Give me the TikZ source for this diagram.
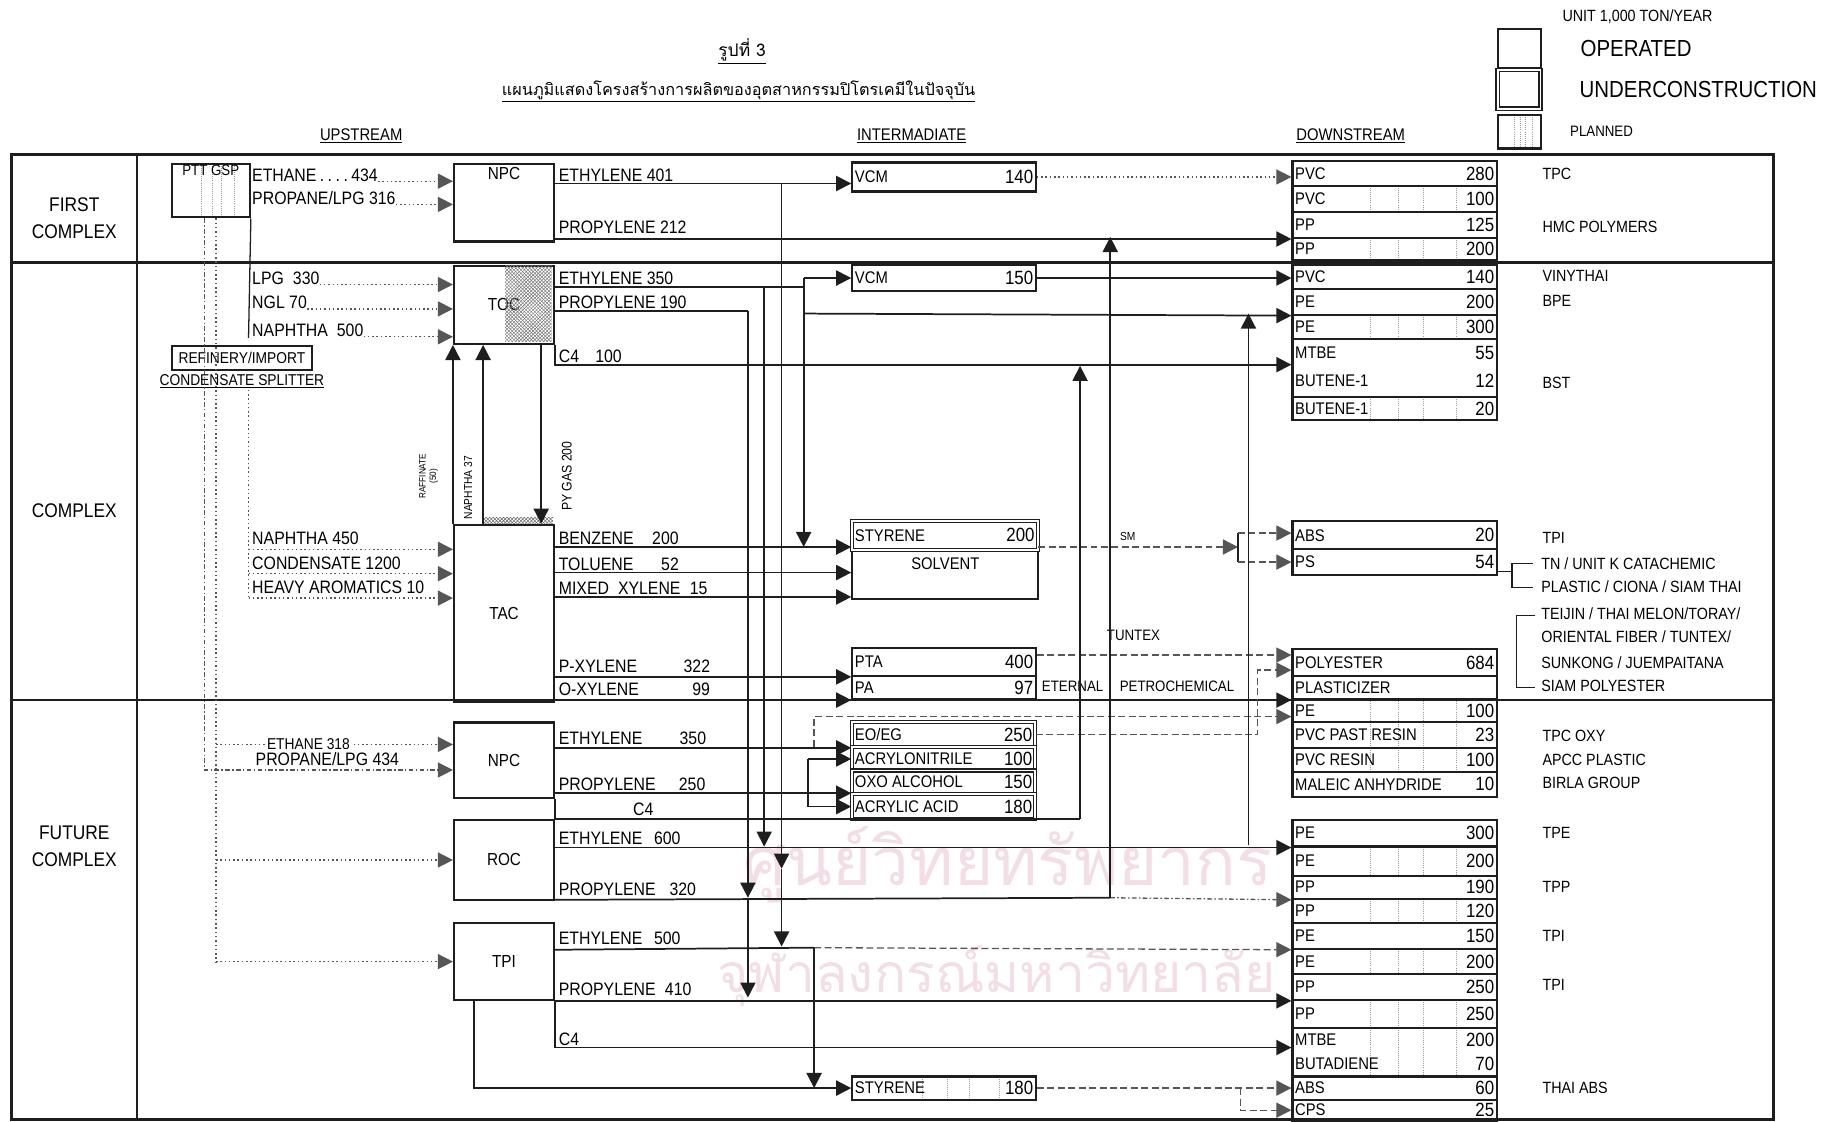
\documentclass[tikz,border=0pt]{standalone}
\usepackage{fontspec}
\setmainfont{Liberation Sans}[FakeStretch=0.88]
\newfontfamily\thaifont[Script=Thai]{Loma}
\usetikzlibrary{arrows.meta,positioning,calc,patterns}
\definecolor{ink}{HTML}{1E1E1E}
\definecolor{wmpink}{HTML}{F3DDE6}

\begin{document}
\begin{tikzpicture}[
  x=1pt,y=-1pt,
  font=\fontsize{14}{15}\selectfont,
  frame/.style={draw=ink,line width=2pt},
  plant/.style={draw=ink,line width=2pt,anchor=north west,inner sep=0pt,minimum width=86pt,font=\fontsize{15}{16}\selectfont},
  ibox/.style={draw=ink,line width=1.8pt,anchor=north west,inner sep=0pt,minimum width=158pt},
  cell/.style={draw=ink,line width=1.8pt,anchor=north west,inner sep=0pt,minimum width=176pt},
  lbox/.style={draw=ink,line width=1.8pt,anchor=north west,inner sep=0pt,minimum width=37pt},
  opr/.style={},
  pln/.style={path picture={\foreach \f in {.38,.52,.64,.8}{\draw[ink!45,densely dotted,line width=.8pt] ($(path picture bounding box.north west)!\f!(path picture bounding box.north east)$) -- ($(path picture bounding box.south west)!\f!(path picture bounding box.south east)$);}}},
  ucn/.style={double=white,double distance=1.6pt,line width=1pt},
  lbl/.style={anchor=base west,inner sep=0pt,font=\fontsize{15.5}{17}\selectfont},
  ctxt/.style={inner sep=3pt,font=\fontsize{14.5}{16}\selectfont},
  cnum/.style={inner sep=3pt,font=\fontsize{16.5}{18}\selectfont},
  co/.style={anchor=west,inner sep=0pt,font=\fontsize{14}{15}\selectfont},
  hdr/.style={font=\fontsize{14.5}{16}\selectfont},
  rowlbl/.style={align=center,font=\fontsize{17}{23}\selectfont},
  rot/.style={rotate=90,align=center,inner sep=0pt},
  wm/.style={text=wmpink,font=\thaifont\fontsize{#1}{#1}\selectfont},
  ln/.style={draw=ink,line width=1.5pt},
  arr/.style={-{Triangle[length=13pt,width=13pt]},draw=ink,line width=1.5pt},
  dotln/.style={draw=ink!75,line width=1.1pt,dash pattern=on 1.3pt off 2.4pt},
  dashdot/.style={draw=ink!75,line width=1.1pt,dash pattern=on 4pt off 2pt on 1.3pt off 2pt},
  dsh/.style={draw=ink!75,line width=1.1pt,dash pattern=on 6pt off 3pt}
]
\useasboundingbox (0,0) rectangle (1568,966);

\node[wm=58] (wmA) at (868,745) {ศูนย์วิทยทรัพยากร};
\node[wm=46] (wmB) at (858,840) {จุฬาลงกรณ์มหาวิทยาลัย};

\node[font=\thaifont\fontsize{15}{16}\selectfont] (fig) at (639,44) {\underline{รูปที่ 3}};
\node[font=\thaifont\fontsize{14}{16}\selectfont] (ttl) at (636,79) {\underline{แผนภูมิแสดงโครงสร้างการผลิตของอุตสาหกรรมปิโตรเคมีในปัจจุบัน}};
\node[hdr] (hUp) at (311,117) {\underline{UPSTREAM}};
\node[hdr] (hMid) at (785,117) {\underline{INTERMADIATE}};
\node[hdr] (hDown) at (1163,117) {\underline{DOWNSTREAM}};

\node[font=\fontsize{14}{15}\selectfont] (unit) at (1410,14) {UNIT 1,000 TON/YEAR};
\node[lbox,minimum height=34pt] (kOp) at (1289,24) {};
\node[lbox,ucn,minimum height=33pt] (kUc) at (1289,60) {};
\node[lbox,pln,minimum height=29pt] (kPl) at (1289,98) {};
\node[inner sep=0pt,font=\fontsize{20}{22}\selectfont,right=33pt of kOp] (tOp) {OPERATED};
\node[inner sep=0pt,font=\fontsize{20}{22}\selectfont,right=33pt of kUc] (tUc) {UNDERCONSTRUCTION};
\node[inner sep=0pt,font=\fontsize{13}{14}\selectfont,right=24pt of kPl] (tPl) {PLANNED};

\draw[frame] (10,133) rectangle (1527,964);
\draw[frame] (118,133) -- (118,964);
\draw[frame] (10,226) -- (1527,226);
\draw[frame] (10,603) -- (1527,603);

\node[rowlbl] (rowA) at (64,188) {FIRST\\COMPLEX};
\node[rowlbl] (rowB) at (64,440) {COMPLEX};
\node[rowlbl] (rowC) at (64,729) {FUTURE\\COMPLEX};

\node[plant,pln,minimum width=67pt,minimum height=46pt,label={[anchor=north,inner sep=2pt,font=\fontsize{13}{14}\selectfont]north:PTT GSP}] (gsp) at (147,140) {};
\node[draw=ink,line width=1.6pt,anchor=north west,minimum width=121pt,minimum height=21pt,inner sep=0pt,font=\fontsize{13.5}{14}\selectfont] (ref) at (147,297) {REFINERY/IMPORT};
\node[below=2pt of ref,inner sep=1pt,font=\fontsize{13.5}{14}\selectfont] (splt) {\underline{CONDENSATE SPLITTER}};

\node[plant,minimum height=67pt,label={[anchor=north,inner sep=4pt,font=\fontsize{15}{16}\selectfont]north:NPC}] (npcA) at (390,140) {};
\node[plant,minimum height=67pt] (toc) at (390,228) {TOC};
\fill[pattern=crosshatch,pattern color=ink!60] (435,229) rectangle (475,294);
\node[plant,minimum height=152pt] (tac) at (390,451) {TAC};
\fill[pattern=crosshatch,pattern color=ink!70] (416,446) rectangle (476,451);
\node[plant,minimum height=65pt] (npcC) at (390,621) {NPC};
\node[plant,minimum height=69pt] (roc) at (390,705) {ROC};
\node[plant,minimum height=66pt] (tpi) at (390,794) {TPI};

\node[ibox,minimum height=25pt] (vcmA) at (733,139) {};
\node[ctxt,anchor=west] (vcmA-l) at (vcmA.west) {VCM};
\node[cnum,anchor=east] (vcmA-v) at (vcmA.east) {140};
\node[ibox,minimum height=23pt] (vcmB) at (733,227) {};
\node[ctxt,anchor=west] (vcmB-l) at (vcmB.west) {VCM};
\node[cnum,anchor=east] (vcmB-v) at (vcmB.east) {150};
\node[ibox,minimum width=160pt,minimum height=42pt] (solv) at (733,473) {};
\node[ctxt] (solv-l) at (814,485) {SOLVENT};
\node[ibox,ucn,minimum width=160pt,minimum height=25pt] (styA) at (733,448) {};
\node[ctxt,anchor=west] (styA-l) at (styA.west) {STYRENE};
\node[cnum,anchor=east] (styA-v) at (styA.east) {200};
\node[ibox,minimum height=24pt] (pta) at (733,557) {};
\node[ctxt,anchor=west] (pta-l) at (pta.west) {PTA};
\node[cnum,anchor=east] (pta-v) at (pta.east) {400};
\node[ibox,minimum height=20pt] (pa) at (733,581) {};
\node[ctxt,anchor=west] (pa-l) at (pa.west) {PA};
\node[cnum,anchor=east] (pa-v) at (pa.east) {97};
\foreach \nm/\ya/\yb/\lab/\val in {eoeg/621/643/{EO/EG}/250, acn/643/663/ACRYLONITRILE/100, oxo/663/683/OXO ALCOHOL/150, acry/683/705/ACRYLIC ACID/180}
{
  \node[ibox,ucn,minimum height={(\yb-\ya)*1pt}] (\nm) at (733,\ya) {};
  \node[ctxt,anchor=west] (\nm-l) at (\nm.west) {\lab};
  \node[cnum,anchor=east] (\nm-v) at (\nm.east) {\val};
}
\node[ibox,pln,minimum height=20pt] (sty180) at (733,926) {};
\node[ctxt,anchor=west] (sty180-l) at (sty180.west) {STYRENE};
\node[cnum,anchor=east] (sty180-v) at (sty180.east) {180};

\foreach \nm/\ya/\yb/\lab/\val/\sty in {
  pvcA/138/159/PVC/280/opr, pvcB/159/182/PVC/100/pln, ppA/182/204/PP/125/opr, ppB/204/223/PP/200/pln,
  pvcC/227/248/PVC/140/opr, peA/248/270/PE/200/opr, peB/270/291/PE/300/pln, mtbeA/291/341/{}/{}/opr, butA/341/361/BUTENE-1/20/pln,
  absA/448/472/ABS/20/opr, psA/472/494/PS/54/opr,
  polyA/558/581/POLYESTER/684/opr, plastA/581/601/PLASTICIZER/{}/opr, peC/601/621/PE/100/pln,
  pvcD/621/643/PVC PAST RESIN/23/pln, pvcE/643/664/PVC RESIN/100/pln, maleA/664/685/MALEIC ANHYDRIDE/10/opr,
  peD/705/728/PE/300/opr, peE/728/753/PE/200/pln, ppC/753/773/PP/190/opr, ppD/773/794/PP/120/pln,
  peF/794/816/PE/150/opr, peG/816/838/PE/200/pln, ppE/838/860/PP/250/opr, ppF/860/884/PP/250/pln,
  mtbeB/884/926/{}/{}/pln, absB/926/946/ABS/60/opr, cpsA/946/964/CPS/25/opr}
{
  \node[cell,\sty,minimum height={(\yb-\ya)*1pt}] (\nm) at (1112,\ya) {};
  \node[ctxt,anchor=west] (\nm-l) at (\nm.west) {\lab};
  \node[cnum,anchor=east] (\nm-v) at (\nm.east) {\val};
}
\node[ctxt,anchor=west] (mtbeA-a) at (mtbeA.west |- 0,304) {MTBE};
\node[cnum,anchor=east] (mtbeA-b) at (mtbeA.east |- 0,304) {55};
\node[ctxt,anchor=west] (mtbeA-c) at (mtbeA.west |- 0,328) {BUTENE-1};
\node[cnum,anchor=east] (mtbeA-d) at (mtbeA.east |- 0,328) {12};
\node[ctxt,anchor=west] (mtbeB-a) at (mtbeB.west |- 0,895) {MTBE};
\node[cnum,anchor=east] (mtbeB-b) at (mtbeB.east |- 0,895) {200};
\node[ctxt,anchor=west] (mtbeB-c) at (mtbeB.west |- 0,916) {BUTADIENE};
\node[cnum,anchor=east] (mtbeB-d) at (mtbeB.east |- 0,916) {70};

\node[lbl] (fEthA) at (217,156) {ETHANE\makebox[30pt]{\dotfill}434};
\node[lbl] (fProA) at (217,176) {PROPANE/LPG 316};
\node[lbl] (fLpg) at (217,245) {LPG\enspace 330};
\node[lbl] (fNgl) at (217,266) {NGL 70};
\node[lbl] (fNap) at (217,290) {NAPHTHA\enspace 500};
\node[lbl] (fNapB) at (217,469) {NAPHTHA 450};
\node[lbl] (fCon) at (217,490) {CONDENSATE 1200};
\node[lbl] (fHvy) at (217,511) {HEAVY AROMATICS 10};
\node[lbl] (fProC) at (220,659) {PROPANE/LPG 434};

\node[lbl] (oEthA) at (481,156) {ETHYLENE 401};
\node[lbl] (oProA) at (481,201) {PROPYLENE 212};
\node[lbl] (oEthB) at (481,245) {ETHYLENE 350};
\node[lbl] (oProB) at (481,266) {PROPYLENE 190};
\node[lbl] (oC4B) at (481,312) {C4\hspace{14pt}100};
\node[lbl] (oBen) at (481,469) {BENZENE\hspace{16pt}200};
\node[lbl] (oTol) at (481,491) {TOLUENE\hspace{24pt}52};
\node[lbl] (oXyl) at (481,512) {MIXED\enspace XYLENE\hspace{8pt}15};
\node[lbl] (oPx) at (481,579) {P-XYLENE\hspace{40pt}322};
\node[lbl] (oOx) at (481,599) {O-XYLENE\hspace{46pt}99};
\node[lbl] (oEthC) at (481,641) {ETHYLENE\hspace{32pt}350};
\node[lbl] (oProC) at (481,681) {PROPYLENE\hspace{20pt}250};
\node[lbl] (oC4C) at (545,702) {C4};
\node[lbl] (oEthD) at (481,727) {ETHYLENE\hspace{10pt}600};
\node[lbl] (oProD) at (481,771) {PROPYLENE\hspace{12pt}320};
\node[lbl] (oEthE) at (481,813) {ETHYLENE\hspace{10pt}500};
\node[lbl] (oProE) at (481,857) {PROPYLENE\hspace{8pt}410};
\node[lbl] (oC4E) at (481,900) {C4};

\node[rot,font=\fontsize{8}{9}\selectfont] (lRaf) at (369,410) {RAFFINATE\\(50)};
\node[rot,font=\fontsize{10}{11}\selectfont] (lNap) at (403,420) {NAPHTHA 37};
\node[rot,font=\fontsize{12}{13}\selectfont] (lPyg) at (488,410) {PY GAS 200};

\node[font=\fontsize{10}{11}\selectfont] (lSM) at (971,462) {SM};
\node[font=\fontsize{13}{14}\selectfont] (lTun) at (976,547) {TUNTEX};
\node[anchor=west,inner sep=0pt,font=\fontsize{13}{14}\selectfont] (lEtA) at (897,591) {ETERNAL};
\node[anchor=west,inner sep=0pt,font=\fontsize{13}{14}\selectfont] (lEtB) at (964,591) {PETROCHEMICAL};

\node[co] (cTpc) at (1328,150) {TPC};
\node[co] (cHmc) at (1328,195) {HMC POLYMERS};
\node[co] (cVin) at (1328,238) {VINYTHAI};
\node[co] (cBpe) at (1328,259) {BPE};
\node[co] (cBst) at (1328,330) {BST};
\node[co] (cTpiA) at (1328,463) {TPI};
\node[co] (cPsA) at (1327,485) {TN / UNIT K CATACHEMIC};
\node[co] (cPsB) at (1327,505) {PLASTIC / CIONA / SIAM THAI};
\node[co] (cPeA) at (1327,528) {TEIJIN / THAI MELON/TORAY/};
\node[co] (cPeB) at (1327,548) {ORIENTAL FIBER / TUNTEX/};
\node[co] (cPeC) at (1327,571) {SUNKONG / JUEMPAITANA};
\node[co] (cPeD) at (1327,591) {SIAM POLYESTER};
\node[co] (cOxy) at (1328,634) {TPC OXY};
\node[co] (cApc) at (1328,654) {APCC PLASTIC};
\node[co] (cBir) at (1328,674) {BIRLA GROUP};
\node[co] (cTpe) at (1328,717) {TPE};
\node[co] (cTpp) at (1328,764) {TPP};
\node[co] (cTpiB) at (1328,806) {TPI};
\node[co] (cTpiC) at (1328,848) {TPI};
\node[co] (cAbs) at (1328,937) {THAI ABS};

\draw[arr,dotln] (fEthA.base east) -- (npcA.west |- fEthA.base east);
\draw[arr,dotln] (fProA.base east) -- (npcA.west |- fProA.base east);
\draw[arr] (npcA.east |- 0,158) -- (vcmA.west |- 0,158);
\draw[arr] (npcA.east |- ppA.south west) -- (ppA.south west);
\draw[arr,dotln] (vcmA.east) -- (pvcA.west |- vcmA.east);
\draw[ln] (673,158) -- (673,740);
\draw[arr] (673,730) -- (673,748);
\draw[arr] (673,748) -- (673,815);

\draw[ln,line width=1.1pt] (gsp.south east) -- (214,291);
\draw[arr,dashdot] (gsp.south -| 176,0) |- (npcC.west |- 0,663);
\draw[dotln] (gsp.south -| 186,0) -- (186,829);
\draw[arr,dotln] (186,641) -- node[pos=.39,fill=white,inner sep=1pt,font=\fontsize{13.5}{14}\selectfont] (fEthC) {ETHANE 318} (npcC.west |- 0,641);
\draw[arr,dotln] (roc.west -| 186,0) -- (roc.west);
\draw[arr,dotln] (tpi.west -| 186,0) -- (tpi.west);
\draw[arr,dotln] (fLpg.base east) -- (toc.west |- fLpg.base east);
\draw[arr,dotln] (fNgl.base east) -- (toc.west |- fNgl.base east);
\draw[arr,dotln] (fNap.base east) -- (toc.west |- fNap.base east);

\draw[ln] (toc.east |- 0,247) -- (692,247);
\draw[arr] (vcmB.west -| 692,0) -- (vcmB.west);
\draw[arr] (vcmB.west -| 692,0) -- (692,471);
\draw[arr] (692,270) -- (peA.south west);
\draw[arr] (658,247) -- (658,729);
\draw[ln] (toc.east |- 0,268) -- (644,268);
\draw[arr] (644,268) -- (644,773);
\draw[arr] (644,773) -- (644,859);
\draw[arr] (toc.south east) |- (mtbeA.west |- 0,314);
\draw[arr] (vcmB.east) -- (pvcC.west |- vcmB.east);
\draw[arr] (tac.north west) -- (toc.south west);
\draw[arr] (tac.north -| 416,0) -- (toc.south -| 416,0);
\draw[arr] (toc.south -| 466,0) -- (tac.north -| 466,0);

\draw[dotln] (splt.south -| 214,0) -- (214,515);
\draw[arr,dotln] (214,473) -- (tac.west |- 0,473);
\draw[arr,dotln] (214,494) -- (tac.west |- 0,494);
\draw[arr,dotln] (214,515) -- (tac.west |- 0,515);
\draw[arr] (tac.east |- 0,471) -- (styA.west |- 0,471);
\draw[arr] (tac.east |- 0,493) -- (solv.west |- 0,493);
\draw[arr] (tac.east |- 0,514) -- (solv.west |- 0,514);
\draw[arr] (tac.east |- pta.south west) -- (pta.south west);
\draw[arr] (tac.east |- pa.south west) -- (pa.south west);

\coordinate (smTop) at (1066,459);
\coordinate (smMid) at (1066,471);
\coordinate (smBot) at (1066,484);
\draw[arr,dsh] (styA.east |- smMid) -- (smMid);
\draw[ln,line width=1.2pt] (smTop) -- (smBot);
\draw[arr,dsh] (smTop) -- (absA.west |- smTop);
\draw[arr,dsh] (smBot) -- (psA.west |- smBot);
\draw[arr,dsh] (pta.east |- 0,564) -- (polyA.west |- 0,564);
\draw[arr] (pa.south east) -- (plastA.south west);
\draw[arr,dsh] (eoeg.east) -| (1083,577) -- (polyA.west |- 0,577);
\draw[ln,line width=1pt] (psA.east |- 0,492) -- (1302,492);
\draw[ln,line width=1.1pt] (1320,485) -| (1302,506) -- (1320,506);
\draw[ln,line width=1.1pt] (1322,530) -| (1306,592) -- (1322,592);

\draw[arr] (npcC.east |- eoeg.south) -- (eoeg.south west);
\draw[arr,dsh] (701,643) |- (peC.west |- 0,617);
\draw[arr] (npcC.east |- acry.north west) -- (acry.north west);
\draw[ln] (acn.west -| 696,0) -- (acry.west -| 696,0);
\draw[arr] (acn.west -| 696,0) -- (acn.west);
\draw[arr] (acry.west -| 696,0) -- (acry.west);
\draw[ln] (npcC.south east) |- (930,705);
\draw[arr] (930,705) -- (930,315);

\draw[arr] (roc.east |- peD.south west) -- (peD.south west);
\draw[arr] (1075,728) -- (1075,270);
\draw[ln] (roc.east |- ppC.south west) -- (956,773);
\draw[arr,dashdot] (956,773) -- (ppC.south west);
\draw[arr] (956,773) -- (956,204);

\draw[ln] (tpi.east |- peF.south west) -- (701,816);
\draw[arr,dsh] (701,816) -- (peF.south west);
\draw[arr] (701,816) -- (sty180.west -| 701,0);
\draw[arr] (tpi.east |- ppE.south west) -- (ppE.south west);
\draw[arr] (tpi.south east) |- (mtbeB.west |- 0,902);
\draw[arr] (tpi.south -| 408,0) |- (sty180.west);
\draw[arr,dsh] (sty180.east) -- (absB.west);
\draw[arr,dsh] (absB.west -| 1068,0) |- (cpsA.west);
\end{tikzpicture}
\end{document}
